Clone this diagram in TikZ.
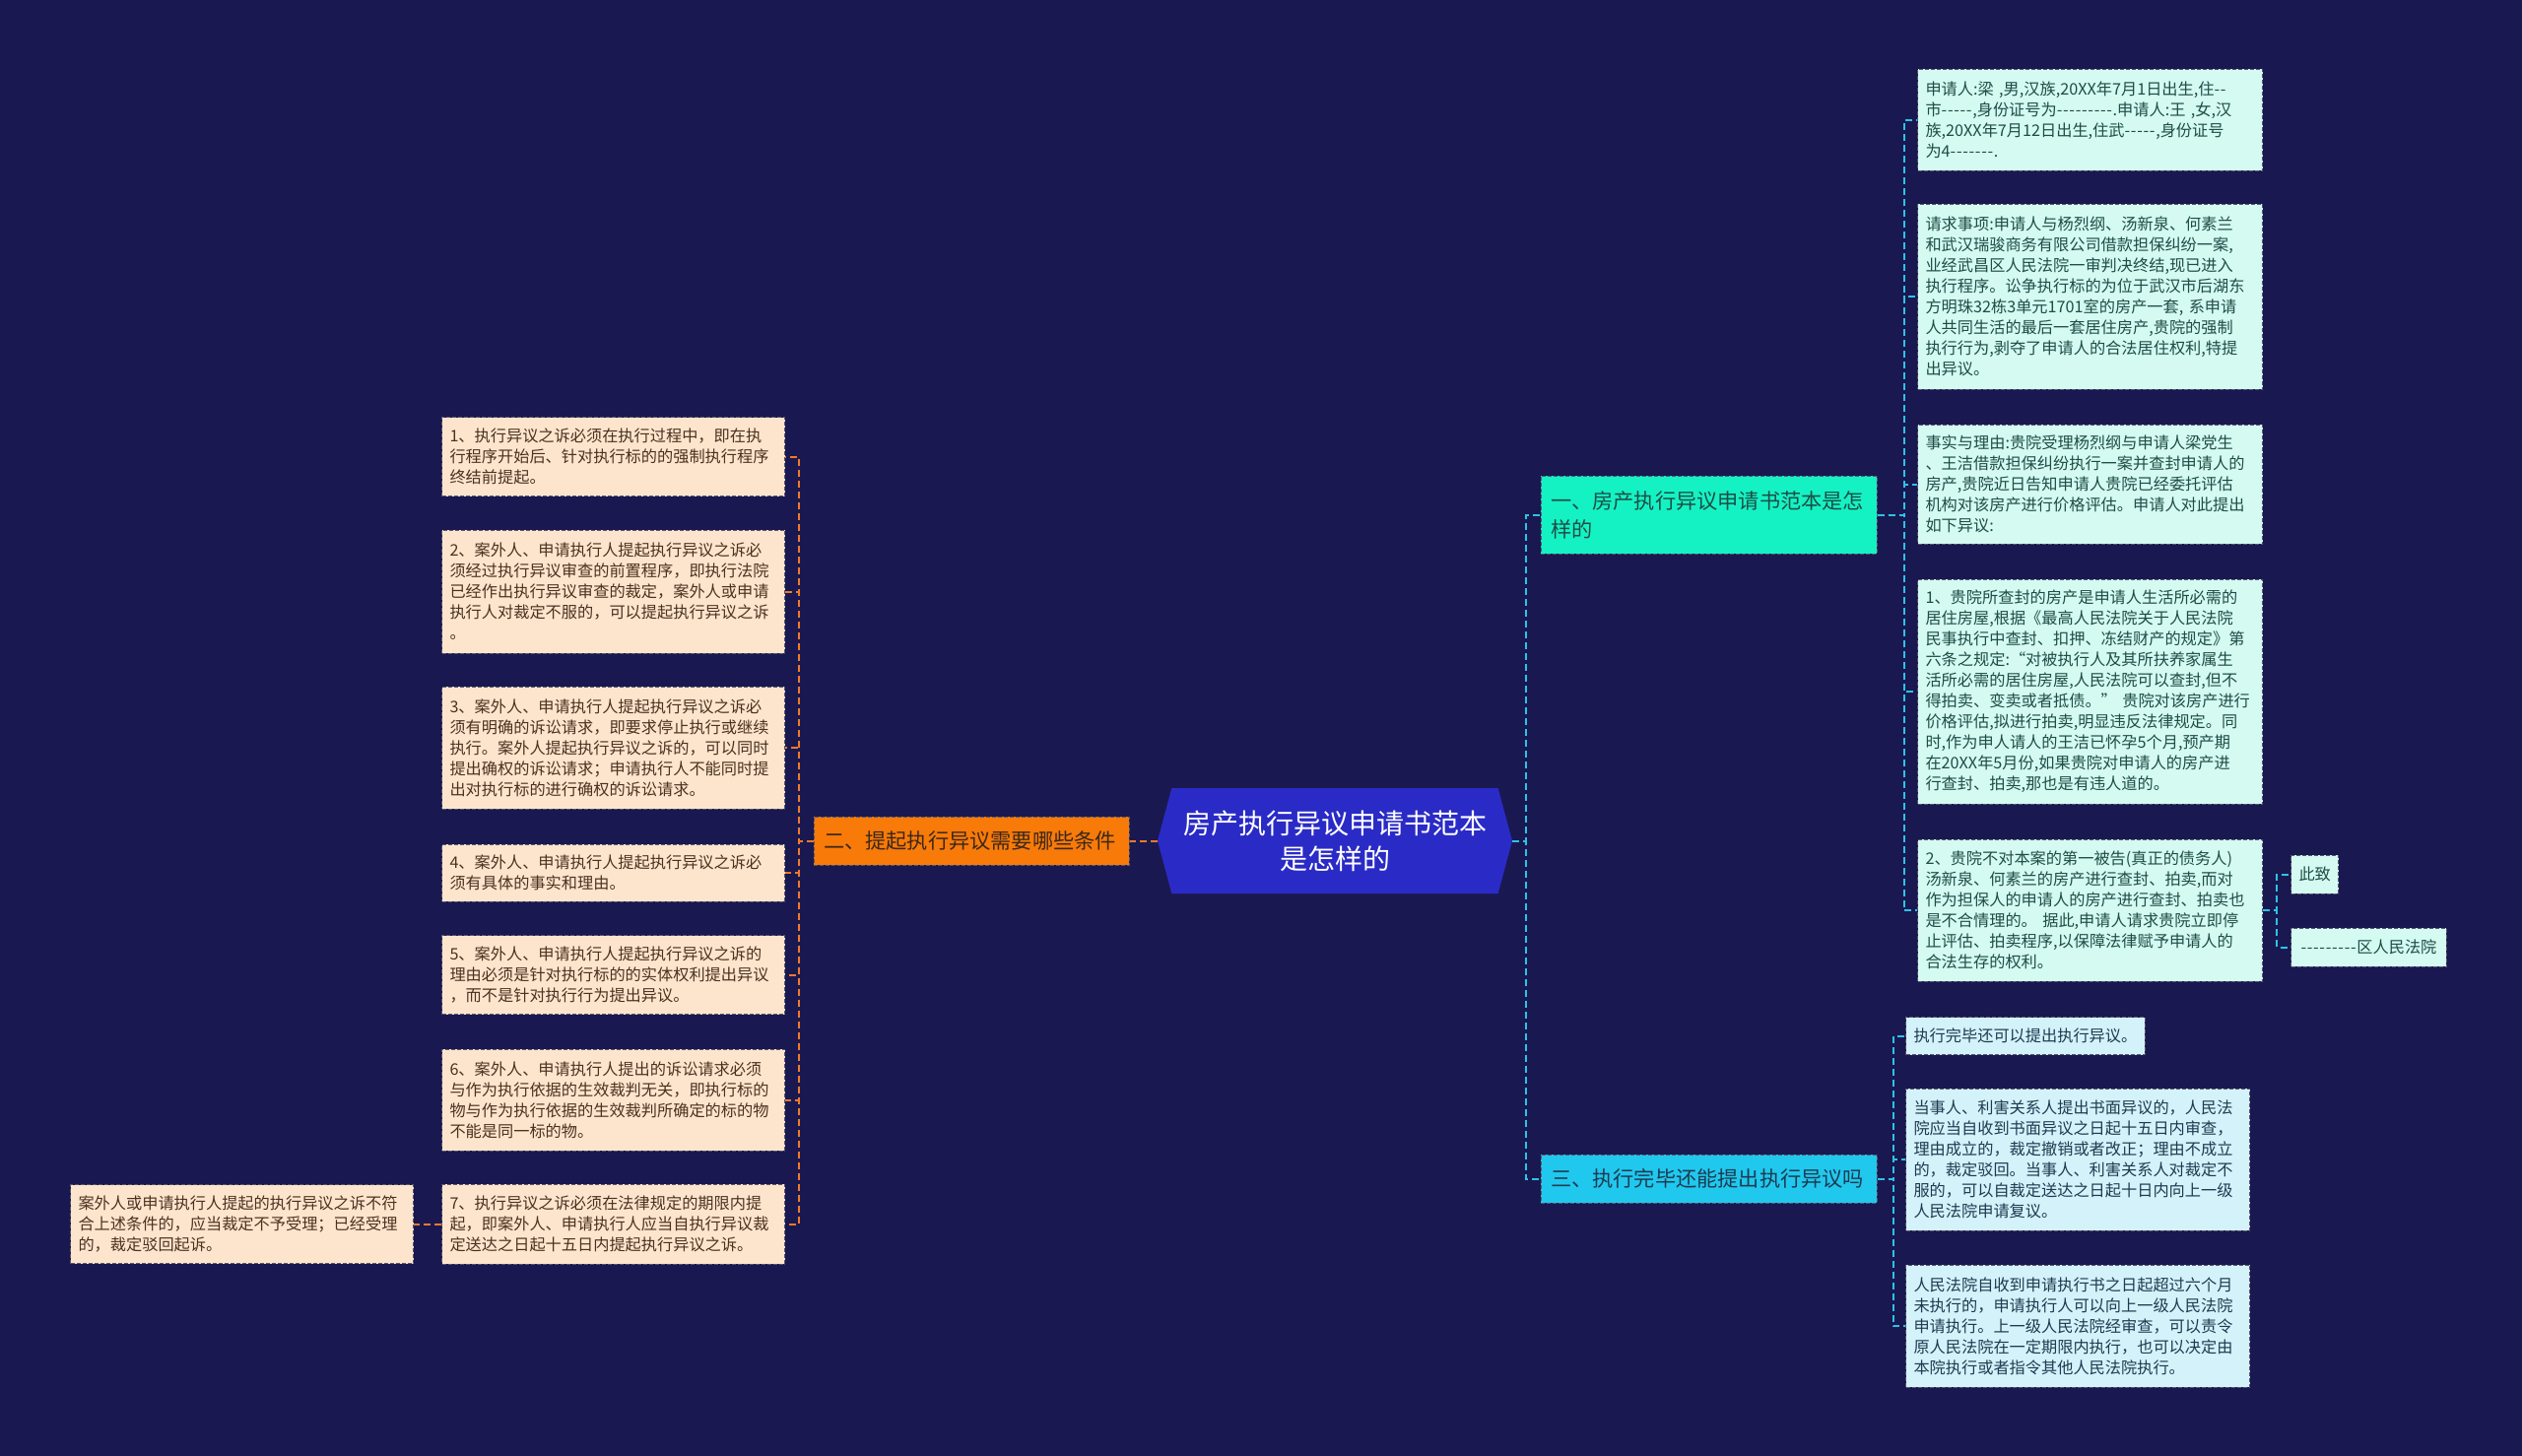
\documentclass[tikz,border=0pt]{standalone}
\usepackage{fontspec}
\setmainfont{Noto Sans CJK SC}
\usetikzlibrary{shapes.symbols}
\definecolor{bgnavy}{HTML}{1A1850}
\definecolor{rootblue}{HTML}{2A2BC6}
\definecolor{twoorange}{HTML}{F87A08}
\definecolor{onegreen}{HTML}{14F2C4}
\definecolor{threecyan}{HTML}{20C8EE}
\definecolor{mintfill}{HTML}{D4FAF2}
\definecolor{skyfill}{HTML}{D4F2FA}
\definecolor{peachfill}{HTML}{FDE5CD}
\definecolor{mintink}{HTML}{1E4D46}
\definecolor{skyink}{HTML}{1D3B50}
\definecolor{peachink}{HTML}{4A3221}
\definecolor{boxline}{HTML}{56566E}
\definecolor{lline}{HTML}{F07A2A}
\definecolor{rline}{HTML}{2BC4E6}
\newcommand\hyp{\kern0pt-\kern0.35pt}
\tikzset{
    box/.style={draw=boxline, line width=0.5pt, dash pattern=on 2pt off 1pt, align=left, anchor=west, inner xsep=4pt, inner ysep=0pt},
    leaffont/.style={font=\fontsize{8.1}{10.5}\selectfont},
    rleaf/.style={box, leaffont, fill=mintfill, text=mintink, text width=167pt},
    rtag/.style={box, leaffont, fill=mintfill, text=mintink, minimum height=19.5pt},
    cleaf/.style={box, leaffont, fill=skyfill, text=skyink, text width=166.5pt},
    lleaf/.style={box, leaffont, fill=peachfill, text=peachink, text width=166pt},
    branch/.style={box, anchor=center, inner xsep=5pt, font=\fontsize{10.6}{14.5}\selectfont},
    rootbox/.style={shape=signal, signal to=west and east, signal pointer angle=150, fill=rootblue, text=white, align=center, font=\fontsize{14}{18}\selectfont, minimum width=180pt, minimum height=53.5pt, inner sep=2pt},
    llink/.style={draw=lline, line width=1pt, dash pattern=on 3.5pt off 2pt},
    rlink/.style={draw=rline, line width=1pt, dash pattern=on 3.5pt off 2pt}
}
\begin{document}
\begin{tikzpicture}[x=0.5pt, y=-0.5pt]
    \fill[bgnavy] (0,0) rectangle (2560,1478);
    \useasboundingbox (0,0) rectangle (2560,1478);

    \node[rootbox] (root) at (1355,853.5) {房产执行异议申请书范本\\是怎样的};
    \node[branch, fill=twoorange, text=peachink!80!black, text width=150pt, minimum height=24.5pt] (two) at (986,853.5) {二、提起执行异议需要哪些条件};
    \node[branch, fill=onegreen, text=mintink, text width=160.5pt, minimum height=39.5pt] (one) at (1734.5,522.5) {一、房产执行异议申请书范本是怎\\样的};
    \node[branch, fill=threecyan, text=skyink, text width=160.5pt, minimum height=24.5pt] (three) at (1734.5,1196.5) {三、执行完毕还能提出执行异议吗};

    \node[rleaf, minimum height=51.5pt] (r1) at (1946,121.5) {申请人:梁 ,男,汉族,20XX年7月1日出生,住\hyp\hyp\\市\hyp\hyp\hyp\hyp\hyp,身份证号为\hyp\hyp\hyp\hyp\hyp\hyp\hyp\hyp\hyp.申请人:王 ,女,汉\\族,20XX年7月12日出生,住武\hyp\hyp\hyp\hyp\hyp,身份证号\\为4\hyp\hyp\hyp\hyp\hyp\hyp\hyp.};
    \node[rleaf, minimum height=94pt] (r2) at (1946,301) {请求事项:申请人与杨烈纲、汤新泉、何素兰\\和武汉瑞骏商务有限公司借款担保纠纷一案,\\业经武昌区人民法院一审判决终结,现已进入\\执行程序。讼争执行标的为位于武汉市后湖东\\方明珠32栋3单元1701室的房产一套, 系申请\\人共同生活的最后一套居住房产,贵院的强制\\执行行为,剥夺了申请人的合法居住权利,特提\\出异议。};
    \node[rleaf, minimum height=60.5pt] (r3) at (1946,491.5) {事实与理由:贵院受理杨烈纲与申请人梁党生\\、王洁借款担保纠纷执行一案并查封申请人的\\房产,贵院近日告知申请人贵院已经委托评估\\机构对该房产进行价格评估。申请人对此提出\\如下异议:};
    \node[rleaf, minimum height=114pt] (r4) at (1946,702) {1、贵院所查封的房产是申请人生活所必需的\\居住房屋,根据《最高人民法院关于人民法院\\民事执行中查封、扣押、冻结财产的规定》第\\六条之规定:“对被执行人及其所扶养家属生\\活所必需的居住房屋,人民法院可以查封,但不\\得拍卖、变卖或者抵债。” 贵院对该房产进行\\价格评估,拟进行拍卖,明显违反法律规定。同\\时,作为申人请人的王洁已怀孕5个月,预产期\\在20XX年5月份,如果贵院对申请人的房产进\\行查封、拍卖,那也是有违人道的。};
    \node[rleaf, minimum height=72pt] (r5) at (1946,924) {2、贵院不对本案的第一被告(真正的债务人)\\汤新泉、何素兰的房产进行查封、拍卖,而对\\作为担保人的申请人的房产进行查封、拍卖也\\是不合情理的。 据此,申请人请求贵院立即停\\止评估、拍卖程序,以保障法律赋予申请人的\\合法生存的权利。};
    \node[rtag] (cz) at (2325,887.5) {此致};
    \node[rtag, inner xsep=5pt] (qy) at (2325,961.5) {\hyp\hyp\hyp\hyp\hyp\hyp\hyp\hyp\hyp 区人民法院};

    \node[box, leaffont, fill=skyfill, text=skyink, minimum height=19pt] (c1) at (1934,1051.5) {执行完毕还可以提出执行异议。};
    \node[cleaf, minimum height=72pt] (c2) at (1934,1177) {当事人、利害关系人提出书面异议的，人民法\\院应当自收到书面异议之日起十五日内审查，\\理由成立的，裁定撤销或者改正；理由不成立\\的，裁定驳回。当事人、利害关系人对裁定不\\服的，可以自裁定送达之日起十日内向上一级\\人民法院申请复议。};
    \node[cleaf, minimum height=62pt] (c3) at (1934,1346) {人民法院自收到申请执行书之日起超过六个月\\未执行的，申请执行人可以向上一级人民法院\\申请执行。上一级人民法院经审查，可以责令\\原人民法院在一定期限内执行，也可以决定由\\本院执行或者指令其他人民法院执行。};

    \node[lleaf, minimum height=40pt] (l1) at (448,463.5) {1、执行异议之诉必须在执行过程中，即在执\\行程序开始后、针对执行标的的强制执行程序\\终结前提起。};
    \node[lleaf, minimum height=62.5pt] (l2) at (448,600.5) {2、案外人、申请执行人提起执行异议之诉必\\须经过执行异议审查的前置程序，即执行法院\\已经作出执行异议审查的裁定，案外人或申请\\执行人对裁定不服的，可以提起执行异议之诉\\。};
    \node[lleaf, minimum height=62pt] (l3) at (448,759) {3、案外人、申请执行人提起执行异议之诉必\\须有明确的诉讼请求，即要求停止执行或继续\\执行。案外人提起执行异议之诉的，可以同时\\提出确权的诉讼请求；申请执行人不能同时提\\出对执行标的进行确权的诉讼请求。};
    \node[lleaf, minimum height=29pt] (l4) at (448,886) {4、案外人、申请执行人提起执行异议之诉必\\须有具体的事实和理由。};
    \node[lleaf, minimum height=40pt] (l5) at (448,989.5) {5、案外人、申请执行人提起执行异议之诉的\\理由必须是针对执行标的的实体权利提出异议\\，而不是针对执行行为提出异议。};
    \node[lleaf, minimum height=51.5pt] (l6) at (448,1116.5) {6、案外人、申请执行人提出的诉讼请求必须\\与作为执行依据的生效裁判无关，即执行标的\\物与作为执行依据的生效裁判所确定的标的物\\不能是同一标的物。};
    \node[lleaf, minimum height=40.5pt] (l7) at (448,1242.5) {7、执行异议之诉必须在法律规定的期限内提\\起，即案外人、申请执行人应当自执行异议裁\\定送达之日起十五日内提起执行异议之诉。};
    \node[lleaf, minimum height=40pt] (l8) at (71,1242.5) {案外人或申请执行人提起的执行异议之诉不符\\合上述条件的，应当裁定不予受理；已经受理\\的，裁定驳回起诉。};

    \draw[llink] (root.west) -- (two.east);
    \foreach \n in {l1,l2,l3,l4,l5,l6,l7}
        \draw[llink] (two.west) -- ++(-15,0) |- (\n.east);
    \draw[llink] (l7.west) -- (l8.east);

    \foreach \n in {one,three}
        \draw[rlink] (root.east) -- ++(14,0) |- (\n.west);
    \foreach \n in {r1,r2,r3,r4,r5}
        \draw[rlink] (one.east) -- ++(27,0) |- (\n.west);
    \foreach \n in {cz,qy}
        \draw[rlink] (r5.east) -- ++(14,0) |- (\n.west);
    \foreach \n in {c1,c2,c3}
        \draw[rlink] (three.east) -- ++(16,0) |- (\n.west);
\end{tikzpicture}
\end{document}
